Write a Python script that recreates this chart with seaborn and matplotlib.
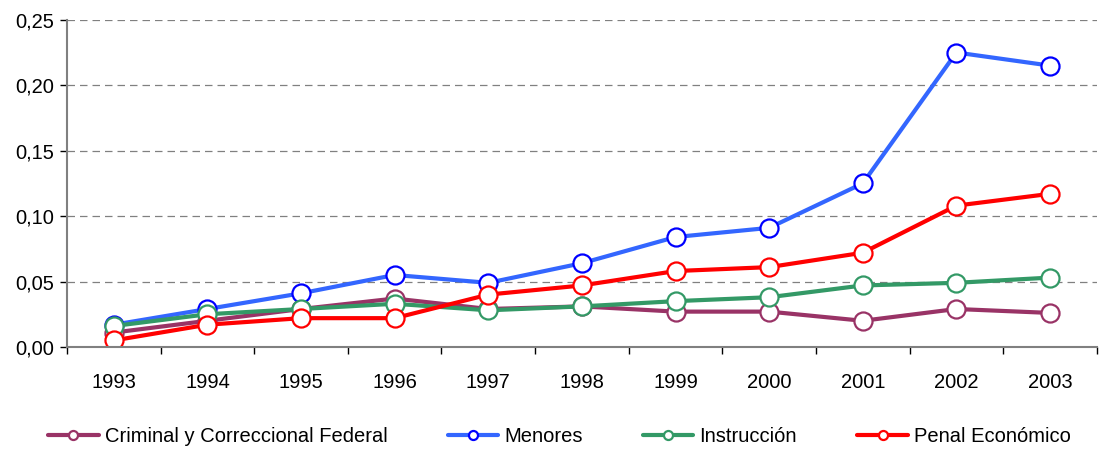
import numpy as np
import pandas as pd
import matplotlib
matplotlib.use('Agg')
import matplotlib.pyplot as plt
import seaborn as sns
from matplotlib.ticker import FuncFormatter, FixedLocator

# Datos
anios = [1993, 1994, 1995, 1996, 1997, 1998, 1999, 2000, 2001, 2002, 2003]
criminal = [0.011, 0.020, 0.029, 0.037, 0.029, 0.031, 0.027, 0.027, 0.020, 0.029, 0.026]
menores = [0.017, 0.029, 0.041, 0.055, 0.049, 0.064, 0.084, 0.091, 0.125, 0.225, 0.215]
instruccion = [0.016, 0.025, 0.029, 0.033, 0.028, 0.031, 0.035, 0.038, 0.047, 0.049, 0.053]
penal = [0.005, 0.017, 0.022, 0.022, 0.040, 0.047, 0.058, 0.061, 0.072, 0.108, 0.117]

series = ['Criminal y Correccional Federal', 'Menores', 'Instrucción', 'Penal Económico']
valores = [criminal, menores, instruccion, penal]
colores_linea = ['#993366', '#3366FF', '#339966', '#FF0000']
colores_borde = ['#993366', '#0000FF', '#339966', '#FF0000']

sns.set_style('white')
plt.rcParams['font.family'] = ['Liberation Sans', 'DejaVu Sans']
plt.rcParams['text.color'] = 'black'
plt.rcParams['xtick.color'] = 'black'
plt.rcParams['ytick.color'] = 'black'

fig = plt.figure(figsize=(10.99, 4.5), dpi=100)
ax = fig.add_axes([0.061, 0.229, 0.937, 0.727])

for nombre, vals, cl, cb in zip(series, valores, colores_linea, colores_borde):
    df = pd.DataFrame({'Año': anios, 'Valor': vals})
    sns.lineplot(data=df, x='Año', y='Valor', ax=ax, color=cl, lw=3,
                 marker='o', markersize=13, markerfacecolor='white',
                 markeredgecolor=cb, markeredgewidth=1.6, label=nombre)

ax.set_xlim(1992.5, 2003.5)
ax.set_ylim(0, 0.25)
ax.set_yticks(np.arange(0, 0.2501, 0.05))
ax.yaxis.set_major_formatter(FuncFormatter(lambda v, p: f'{v:.2f}'.replace('.', ',')))
ax.set_xticks(anios)
ax.set_xticklabels([str(a) for a in anios])
ax.xaxis.set_minor_locator(FixedLocator(np.arange(1992.5, 2004, 1)))
ax.tick_params(axis='x', which='major', length=0, labelsize=14.5, pad=19)
ax.tick_params(axis='x', which='minor', length=5, width=1, color='black', direction='out', bottom=True)
ax.tick_params(axis='y', length=5, width=1, color='black', direction='out', left=True, labelsize=14.5, pad=4)
ax.set_xlabel('')
ax.set_ylabel('')

ax.grid(axis='y', linestyle=(0, (6, 4)), color='#808080', lw=0.9)
ax.grid(axis='x', visible=False)
for s in ['top', 'right']:
    ax.spines[s].set_visible(False)
for s in ['left', 'bottom']:
    ax.spines[s].set_color('#808080')
    ax.spines[s].set_linewidth(1.5)

handles, labels = ax.get_legend_handles_labels()
ax.get_legend().remove()
fig.legend(handles, labels, loc='center', bbox_to_anchor=(0.509, 0.029), ncol=4,
           frameon=False, fontsize=14.5, markerscale=0.5, handlelength=2.5,
           handletextpad=0.3, columnspacing=3.0)

plt.savefig('out.png', dpi=100)
